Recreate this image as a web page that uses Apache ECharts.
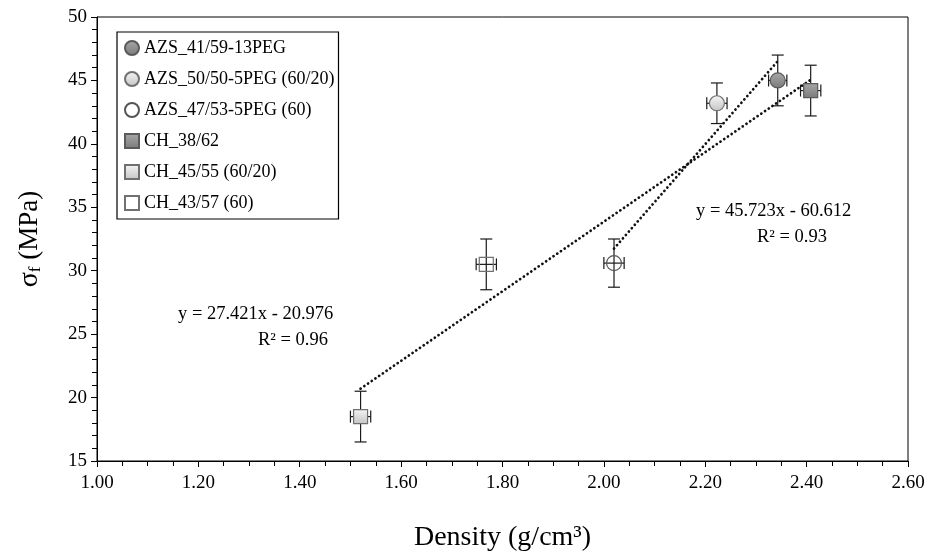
<!DOCTYPE html>
<html>
<head>
<meta charset="utf-8">
<script src="https://cdn.jsdelivr.net/npm/echarts@6/dist/echarts.min.js"></script>
<style>html,body{margin:0;padding:0;background:#fff}#c{width:931px;height:558px}</style>
</head>
<body>
<div id="c"></div>
<script>
// ---- data ----
const seriesNames = ['AZS_41/59-13PEG', 'AZS_50/50-5PEG (60/20)', 'AZS_47/53-5PEG (60)', 'CH_38/62', 'CH_45/55 (60/20)', 'CH_43/57 (60)'];
const densities = [2.343, 2.223, 2.020, 2.408, 1.520, 1.768];
const strengths = [45.0, 43.2, 30.6, 44.2, 18.5, 30.5];
const strengthErr = [2.0, 1.6, 1.9, 2.0, 2.0, 2.0];
const densityErr = [0.018, 0.02, 0.02, 0.02, 0.02, 0.02];
const markerShapes = ['circle', 'circle', 'circle', 'rect', 'rect', 'rect'];
const fitSlopes = [45.723, 27.421];
const fitIntercepts = [-60.612, -20.976];
const fitGroups = [[0, 1, 2], [3, 4, 5]];
const fitLabels = [['y = 45.723x - 60.612', 'R² = 0.93'], ['y = 27.421x - 20.976', 'R² = 0.96']];
const xTicks = {min: 1.0, max: 2.6, interval: 0.2};
const yTicks = {min: 15, max: 50, interval: 5};

const FONT = '"Liberation Serif", "Times New Roman", serif';
function grad(a, b) {
  return new echarts.graphic.LinearGradient(0, 0, 0, 1, [{offset: 0, color: a}, {offset: 1, color: b}]);
}
const fills = [grad('#a8a8a8', '#7a7a7a'), grad('#f6f6f6', '#c4c4c4'), 'rgba(255,255,255,0)',
               grad('#a8a8a8', '#7a7a7a'), grad('#f6f6f6', '#c4c4c4'), 'rgba(255,255,255,0)'];
const borders = ['#5a5a5a', '#707070', '#555555', '#5a5a5a', '#707070', '#707070'];

const chart = echarts.init(document.getElementById('c'));

const series = [];
// error bars (drawn below markers)
series.push({
  type: 'custom',
  name: 'err',
  z: 2,
  silent: true,
  data: densities.map((d, i) => [d, strengths[i], densityErr[i], strengthErr[i]]),
  renderItem: function (params, api) {
    const x = api.value(0), y = api.value(1), ex = api.value(2), ey = api.value(3);
    const top = api.coord([x, y + ey]);
    const bot = api.coord([x, y - ey]);
    const lft = api.coord([x - ex, y]);
    const rgt = api.coord([x + ex, y]);
    const c = 6;
    const st = {stroke: '#1a1a1a', lineWidth: 1.2};
    return {
      type: 'group',
      children: [
        {type: 'line', shape: {x1: top[0], y1: top[1], x2: bot[0], y2: bot[1]}, style: st},
        {type: 'line', shape: {x1: top[0] - c, y1: top[1], x2: top[0] + c, y2: top[1]}, style: st},
        {type: 'line', shape: {x1: bot[0] - c, y1: bot[1], x2: bot[0] + c, y2: bot[1]}, style: st},
        {type: 'line', shape: {x1: lft[0], y1: lft[1], x2: rgt[0], y2: rgt[1]}, style: st},
        {type: 'line', shape: {x1: lft[0], y1: lft[1] - c, x2: lft[0], y2: lft[1] + c}, style: st},
        {type: 'line', shape: {x1: rgt[0], y1: rgt[1] - c, x2: rgt[0], y2: rgt[1] + c}, style: st}
      ]
    };
  }
});
// trendlines
fitGroups.forEach((g, k) => {
  const xs = g.map(i => densities[i]);
  const x0 = Math.min(...xs), x1 = Math.max(...xs);
  series.push({
    type: 'line',
    name: 'fit' + k,
    z: 3,
    silent: true,
    symbol: 'none',
    data: [[x0, fitSlopes[k] * x0 + fitIntercepts[k]], [x1, fitSlopes[k] * x1 + fitIntercepts[k]]],
    lineStyle: {color: '#111', width: 2.7, type: [0.1, 4.4], cap: 'round'}
  });
});
// scatter markers
seriesNames.forEach((n, i) => {
  series.push({
    type: 'scatter',
    name: n,
    z: 4,
    symbol: markerShapes[i],
    symbolSize: markerShapes[i] === 'circle' ? 15 : 14,
    data: [[densities[i], strengths[i]]],
    itemStyle: {color: fills[i], borderColor: borders[i], borderWidth: 1.2, opacity: 1}
  });
});

const eqFont = '18.5px ' + FONT;
chart.setOption({
  animation: false,
  backgroundColor: '#fff',
  grid: {left: 97, right: 23, top: 17, bottom: 97, show: true, borderColor: '#000', borderWidth: 1},
  xAxis: {
    type: 'value', min: xTicks.min, max: xTicks.max, interval: xTicks.interval,
    name: 'Density (g/cm³)', nameLocation: 'middle', nameGap: 63,
    nameTextStyle: {fontFamily: FONT, fontSize: 28, color: '#000'},
    axisLine: {show: true, lineStyle: {color: '#000', width: 1}},
    axisTick: {show: true, inside: false, length: 6, lineStyle: {color: '#000'}},
    minorTick: {show: true, splitNumber: 4, length: 5, lineStyle: {color: '#000'}},
    splitLine: {show: false},
    axisLabel: {fontFamily: FONT, fontSize: 19, color: '#000', margin: 13, formatter: v => v.toFixed(2)}
  },
  yAxis: {
    type: 'value', min: yTicks.min, max: yTicks.max, interval: yTicks.interval,
    name: '{s|σ}{sub|f} (MPa)', nameLocation: 'middle', nameGap: 53,
    nameTextStyle: {fontFamily: FONT, fontSize: 27, color: '#000',
      rich: {s: {fontFamily: FONT, fontSize: 28, color: '#000'},
             sub: {fontFamily: FONT, fontSize: 17, color: '#000', verticalAlign: 'bottom', padding: [10, 0, 0, 0]}}},
    axisLine: {show: true, lineStyle: {color: '#000', width: 1}},
    axisTick: {show: true, inside: false, length: 6, lineStyle: {color: '#000'}},
    minorTick: {show: true, splitNumber: 5, length: 5, lineStyle: {color: '#000'}},
    splitLine: {show: false},
    axisLabel: {fontFamily: FONT, fontSize: 19, color: '#000', margin: 10}
  },
  legend: {
    data: seriesNames,
    orient: 'vertical',
    left: 117, top: 32,
    padding: [6, 4, 6, 7],
    itemGap: 11,
    itemWidth: 14, itemHeight: 14,
    itemTextGap: 4,
    borderColor: '#000', borderWidth: 1.2,
    backgroundColor: '#fff',
    textStyle: {fontFamily: FONT, fontSize: 18, color: '#000', lineHeight: 20},
    selectedMode: false
  },
  graphic: [
    {type: 'text', left: 696, top: 202, style: {text: fitLabels[0][0], font: eqFont, fill: '#000'}},
    {type: 'text', left: 757, top: 228, style: {text: fitLabels[0][1], font: eqFont, fill: '#000'}},
    {type: 'text', left: 178, top: 305, style: {text: fitLabels[1][0], font: eqFont, fill: '#000'}},
    {type: 'text', left: 258, top: 331, style: {text: fitLabels[1][1], font: eqFont, fill: '#000'}}
  ],
  series: series
});
</script>
</body>
</html>
